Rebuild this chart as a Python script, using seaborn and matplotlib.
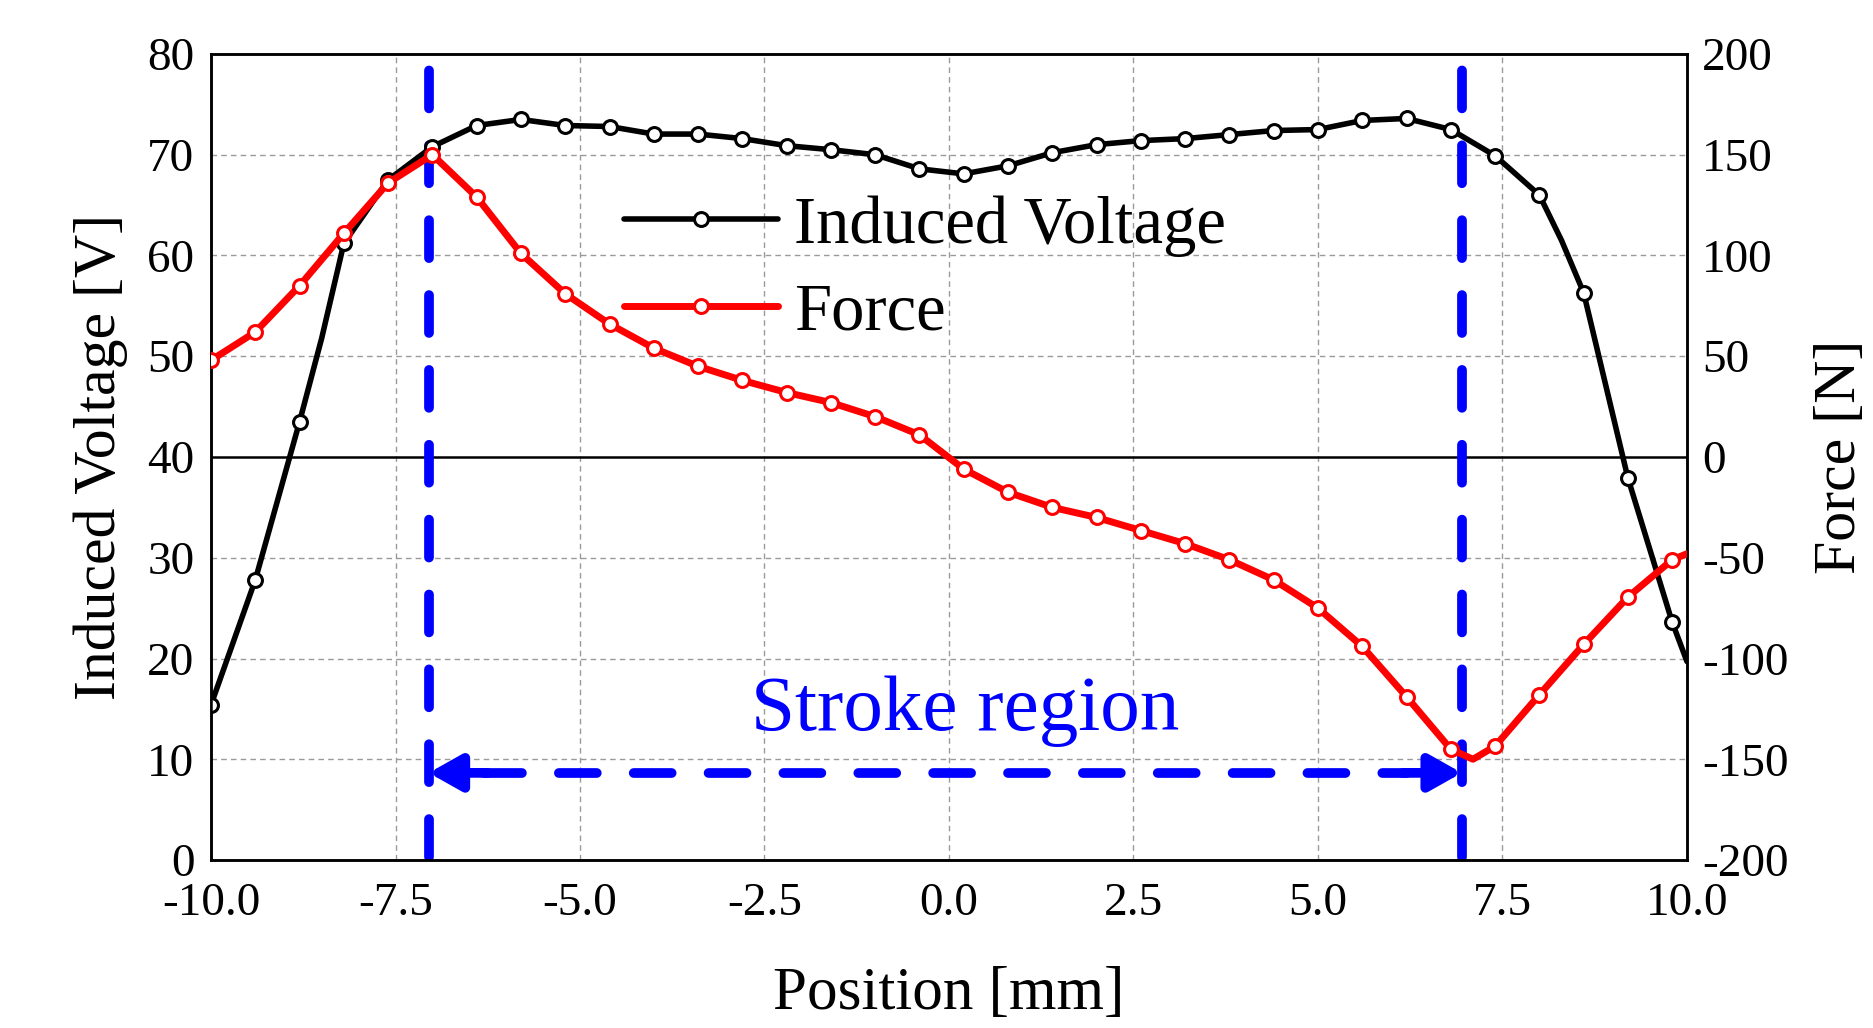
import numpy as np
import pandas as pd
import matplotlib
matplotlib.use("Agg")
import matplotlib.pyplot as plt
import seaborn as sns

# ---- data ----
position = [-10.0, -9.4, -8.8, -8.5, -8.2, -7.6, -7.0, -6.4, -5.8, -5.2, -4.6, -4.0,
            -3.4, -2.8, -2.2, -1.6, -1.0, -0.4, 0.2, 0.8, 1.4, 2.0, 2.6, 3.2,
            3.8, 4.4, 5.0, 5.6, 6.2, 6.8, 7.1, 7.4, 8.0, 8.3, 8.6, 9.2, 9.8, 10.0]
voltage = [15.4, 27.8, 43.5, 51.8, 61.2, 67.5, 70.8, 72.9, 73.5, 72.9, 72.8, 72.05,
           72.05, 71.6, 70.9, 70.5, 70.0, 68.6, 68.1, 68.9, 70.2, 71.0, 71.4, 71.6,
           72.0, 72.4, 72.5, 73.4, 73.6, 72.5, 71.2, 69.9, 66.0, 61.5, 56.3, 37.9, 23.6, 19.7]
force = [48, 62, 85, 98, 111, 136, 150, 129, 101, 81, 66, 54,
         45, 38, 32, 27, 20, 11, -6, -17.5, -25, -30, -36.5, -43,
         -51, -61, -75, -94, -119, -145, -150, -143.5, -118, -105.5, -93, -69.5, -51, -48]

v_ticks = [0, 10, 20, 30, 40, 50, 60, 70, 80]
f_ticks = [-200, -150, -100, -50, 0, 50, 100, 150, 200]
x_ticks = [-10.0, -7.5, -5.0, -2.5, 0.0, 2.5, 5.0, 7.5, 10.0]
stroke_limits = [-7.05, 6.95]

df = pd.DataFrame({"Position": position, "Voltage": voltage, "Force": force})
mark_idx = [i for i, p in enumerate(position)
            if abs((p + 10) / 0.6 - round((p + 10) / 0.6)) < 1e-6]

sns.set_theme(style="white")
plt.rcParams["font.family"] = ["Liberation Serif", "DejaVu Serif"]
plt.rcParams["axes.unicode_minus"] = False
for k in ("text.color", "axes.labelcolor", "xtick.color", "ytick.color"):
    plt.rcParams[k] = "black"

fig = plt.figure(figsize=(18.74, 10.28), dpi=100)
ax = fig.add_axes([0.1126, 0.1634, 0.7876, 0.7841])
ax2 = ax.twinx()

ax.set_xlim(-10, 10)
ax.set_ylim(0, 80)
ax2.set_ylim(-200, 200)

# grid
grid_kw = dict(color="#9a9a9a", lw=1.0, ls=(0, (4, 3)), zorder=0.5)
for xt in x_ticks[1:-1]:
    ax.axvline(xt, **grid_kw)
for yt in v_ticks[1:-1]:
    if yt != 40:
        ax.axhline(yt, **grid_kw)
ax.axhline(40, color="black", lw=1.8, zorder=0.8)

# stroke region markers
blue = "#0000ff"
for xs in stroke_limits:
    ln, = ax.plot([xs, xs], [0.3, 79.0], color=blue, lw=7, solid_capstyle="round",
                  dash_capstyle="round", zorder=1)
    ln.set_dashes((3.9, 3.8))
ya = 8.65
hl, = ax.plot([stroke_limits[0] + 0.75, stroke_limits[1] - 0.75], [ya, ya], color=blue, lw=7,
              dash_capstyle="round", zorder=1)
hl.set_dashes((3.9, 3.8))
for x0, x1 in [(stroke_limits[0] + 0.8, stroke_limits[0]), (stroke_limits[1] - 0.8, stroke_limits[1])]:
    ax.annotate("", xy=(x1, ya), xytext=(x0, ya),
                arrowprops=dict(arrowstyle="-|>,head_length=1.6,head_width=0.9",
                                color=blue, lw=7, shrinkA=0, shrinkB=0,
                                capstyle="round"), zorder=1)
ax.text(0.22, 14.8, "Stroke region", color=blue, fontsize=57, ha="center", va="center")

# data lines
sns.lineplot(data=df, x="Position", y="Voltage", ax=ax, color="black", lw=4.0,
             marker="o", markevery=mark_idx, ms=10, mfc="white", mec="black", mew=2.2,
             label="Induced Voltage", legend=False, zorder=3, sort=False)
sns.lineplot(data=df, x="Position", y="Force", ax=ax2, color="#ff0000", lw=5.0,
             marker="o", markevery=mark_idx, ms=10, mfc="white", mec="#ff0000", mew=2.2,
             label="Force", legend=False, zorder=3, sort=False)

# ticks & labels
ax.set_xticks(x_ticks)
ax.set_xticklabels([f"{t:.1f}" for t in x_ticks])
ax.set_yticks(v_ticks)
ax2.set_yticks(f_ticks)
ax.tick_params(axis="both", length=0, labelsize=34, pad=12)
ax.tick_params(axis="x", pad=16)
ax2.tick_params(axis="y", length=0, labelsize=34, pad=11)
ax.set_xlabel("Position [mm]", fontsize=44, labelpad=30)
ax.set_ylabel("Induced Voltage [V]", fontsize=43, labelpad=14)
ax2.set_ylabel("Force [N]", fontsize=43, labelpad=18)
ax2.grid(False)
ax.grid(False)

for a in (ax, ax2):
    for s in a.spines.values():
        s.set_color("black")
        s.set_linewidth(1.8)

# legend
h1, l1 = ax.get_legend_handles_labels()
h2, l2 = ax2.get_legend_handles_labels()
leg = ax2.legend(h1 + h2, l1 + l2, loc="center left", bbox_to_anchor=(0.28, 0.733),
                 frameon=False, fontsize=48, handlelength=2.3, handletextpad=0.25,
                 borderpad=0, borderaxespad=0, labelspacing=0.38, numpoints=1)

fig.savefig("out.png", dpi=100, facecolor="white")
